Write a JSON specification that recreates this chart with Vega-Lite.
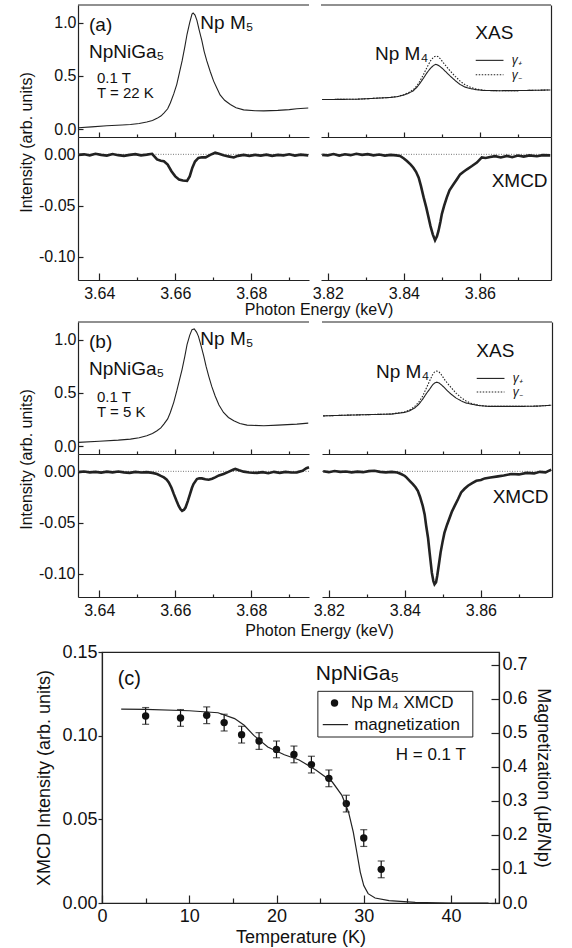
{
"$schema": "https://vega.github.io/schema/vega-lite/v6.json",
"autosize": {"type": "pad"},
"padding": {"left": 18, "top": 4, "right": 2, "bottom": 2},
"background": "white",
"config": {
 "font": "Liberation Sans",
 "view": {"stroke": null},
 "axis": {"labelFont": "Liberation Sans", "titleFont": "Liberation Sans", "labelFontSize": 16, "titleFontSize": 16, "titleFontWeight": "normal", "labelColor": "#111", "titleColor": "#111", "domainColor": "#222", "tickColor": "#222", "grid": false, "labelFlush": false, "labelOverlap": false, "domainWidth": 1.2, "tickWidth": 1.2},
 "text": {"font": "Liberation Sans", "color": "#111"},
 "title": {"font": "Liberation Sans", "fontWeight": "normal", "color": "#111"}
},
"bounds": "full",
"spacing": 3,
"vconcat": [
 {
  "bounds": "full",
  "spacing": -2,
  "title": {"text": "Photon Energy  (keV)", "orient": "bottom", "anchor": "middle", "dx": 32, "offset": 1, "fontSize": 16},
  "hconcat": [
   {"bounds": "flush", "spacing": 0, "vconcat": [
    {"width": 231, "height": 132, "resolve": {"axis": {"x": "independent"}}, "layer": [
     {"data": {"values": [{}]}, "mark": {"type": "rule", "color": "#222", "strokeWidth": 1.2}, "encoding": {"x": {"datum": 3.6344, "type": "quantitative", "axis": {"orient": "bottom", "values": [3.65, 3.67, 3.69], "labels": false, "domain": false, "title": null, "tickSize": -3}}, "x2": {"datum": 3.6952}, "y": {"datum": 1.165, "type": "quantitative"}}},
     {"layer": [
      {"data": {"name": "xasA_L"}, "mark": {"type": "line", "color": "#222", "strokeWidth": 1.1},
       "encoding": {"x": {"field": "E", "type": "quantitative", "scale": {"domain": [3.6344, 3.6952], "nice": false, "zero": false}, "axis": {"orient": "bottom", "values": [3.64, 3.66, 3.68], "labels": false, "title": null, "tickSize": -5}},
        "y": {"field": "I", "type": "quantitative", "scale": {"domain": [-0.075, 1.165], "nice": false, "zero": false}, "axis": {"orient": "left", "values": [0, 0.5, 1], "format": ".1f", "title": null, "tickSize": -5, "labelPadding": 7}}}},
      {"data": {"values": [{}]}, "mark": {"type": "text", "align": "left", "baseline": "middle", "fontSize": 19}, "encoding": {"x": {"datum": 3.6373, "type": "quantitative"}, "y": {"datum": 0.98, "type": "quantitative"}, "text": {"value": "(a)"}}},
      {"data": {"values": [{}]}, "mark": {"type": "text", "align": "left", "baseline": "middle", "fontSize": 19}, "encoding": {"x": {"datum": 3.6373, "type": "quantitative"}, "y": {"datum": 0.72, "type": "quantitative"}, "text": {"value": "NpNiGa₅"}}},
      {"data": {"values": [{}]}, "mark": {"type": "text", "align": "left", "baseline": "middle", "fontSize": 15}, "encoding": {"x": {"datum": 3.6394, "type": "quantitative"}, "y": {"datum": 0.48, "type": "quantitative"}, "text": {"value": "0.1 T"}}},
      {"data": {"values": [{}]}, "mark": {"type": "text", "align": "left", "baseline": "middle", "fontSize": 15}, "encoding": {"x": {"datum": 3.6394, "type": "quantitative"}, "y": {"datum": 0.335, "type": "quantitative"}, "text": {"value": "T = 22 K"}}},
      {"data": {"values": [{}]}, "mark": {"type": "text", "align": "left", "baseline": "middle", "fontSize": 19}, "encoding": {"x": {"datum": 3.6666, "type": "quantitative"}, "y": {"datum": 1.0, "type": "quantitative"}, "text": {"value": "Np M₅"}}}
     ]}
    ]},
    {"width": 231, "height": 143, "resolve": {"axis": {"x": "independent"}}, "layer": [
     {"data": {"values": [{}]}, "mark": {"type": "rule", "color": "#777", "strokeDash": [1, 1.5], "strokeWidth": 1}, "encoding": {"x": {"datum": 3.6344, "type": "quantitative", "axis": {"orient": "bottom", "values": [3.65, 3.67, 3.69], "labels": false, "domain": false, "title": null, "tickSize": -3}}, "x2": {"datum": 3.6952}, "y": {"datum": 0, "type": "quantitative"}}},
     {"layer": [
      {"data": {"name": "xmcdA_L"}, "mark": {"type": "line", "color": "#222", "strokeWidth": 2.6},
       "encoding": {"x": {"field": "E", "type": "quantitative", "scale": {"domain": [3.6344, 3.6952], "nice": false, "zero": false}, "axis": {"orient": "bottom", "values": [3.64, 3.66, 3.68], "format": ".2f", "title": null, "labelPadding": 12, "tickSize": -7}},
        "y": {"field": "I", "type": "quantitative", "scale": {"domain": [-0.1225, 0.0169], "nice": false, "zero": false}, "axis": {"orient": "left", "values": [0, -0.05, -0.1], "labelExpr": "datum.value === 0 ? '0.00' : '-' + format(abs(datum.value),'.2f')", "title": "Intensity  (arb. units)", "titleY": 5, "titlePadding": 4, "tickSize": -5, "labelPadding": 8}}}}
     ]}
    ]}
   ]},
   {"bounds": "flush", "spacing": 0, "vconcat": [
    {"width": 230, "height": 132, "resolve": {"axis": {"x": "independent"}}, "layer": [
     {"data": {"values": [{}]}, "mark": {"type": "rule", "color": "#222", "strokeWidth": 1.2}, "encoding": {"x": {"datum": 3.8182, "type": "quantitative", "axis": {"orient": "bottom", "values": [3.83, 3.85, 3.87], "labels": false, "domain": false, "title": null, "tickSize": -3}}, "x2": {"datum": 3.8787}, "y": {"datum": 1.165, "type": "quantitative"}}},
     {"layer": [
      {"data": {"name": "xasA_R"}, "mark": {"type": "line", "color": "#222", "strokeWidth": 1.1},
       "encoding": {"x": {"field": "E", "type": "quantitative", "scale": {"domain": [3.8182, 3.8787], "nice": false, "zero": false}, "axis": {"orient": "bottom", "values": [3.82, 3.84, 3.86], "labels": false, "title": null, "tickSize": -5}},
        "y": {"field": "I", "type": "quantitative", "scale": {"domain": [-0.075, 1.165], "nice": false, "zero": false}, "axis": {"orient": "right", "labels": false, "ticks": false, "title": null}},
        "strokeDash": {"field": "pol", "type": "nominal", "scale": {"domain": ["plus", "minus"], "range": [[1, 0], [1.5, 1.5]]}, "legend": null}}},
      {"data": {"values": [{}]}, "mark": {"type": "text", "align": "left", "baseline": "middle", "fontSize": 19}, "encoding": {"x": {"datum": 3.8324, "type": "quantitative"}, "y": {"datum": 0.705, "type": "quantitative"}, "text": {"value": "Np M₄"}}},
      {"data": {"values": [{}]}, "mark": {"type": "text", "align": "left", "baseline": "middle", "fontSize": 19}, "encoding": {"x": {"datum": 3.8588, "type": "quantitative"}, "y": {"datum": 0.898, "type": "quantitative"}, "text": {"value": "XAS"}}},
      {"data": {"values": [{}]}, "mark": {"type": "rule", "color": "#222", "strokeWidth": 1.1}, "encoding": {"x": {"datum": 3.8589, "type": "quantitative"}, "x2": {"datum": 3.8662}, "y": {"datum": 0.645, "type": "quantitative"}}},
      {"data": {"values": [{}]}, "mark": {"type": "rule", "color": "#222", "strokeWidth": 1.1, "strokeDash": [1.5, 1.5]}, "encoding": {"x": {"datum": 3.8589, "type": "quantitative"}, "x2": {"datum": 3.8662}, "y": {"datum": 0.51, "type": "quantitative"}}},
      {"data": {"values": [{}]}, "mark": {"type": "text", "align": "left", "baseline": "middle", "fontSize": 12, "fontStyle": "italic"}, "encoding": {"x": {"datum": 3.8684, "type": "quantitative"}, "y": {"datum": 0.645, "type": "quantitative"}, "text": {"value": "γ₊"}}},
      {"data": {"values": [{}]}, "mark": {"type": "text", "align": "left", "baseline": "middle", "fontSize": 12, "fontStyle": "italic"}, "encoding": {"x": {"datum": 3.8684, "type": "quantitative"}, "y": {"datum": 0.51, "type": "quantitative"}, "text": {"value": "γ₋"}}}
     ]}
    ]},
    {"width": 230, "height": 143, "resolve": {"axis": {"x": "independent"}}, "layer": [
     {"data": {"values": [{}]}, "mark": {"type": "rule", "color": "#777", "strokeDash": [1, 1.5], "strokeWidth": 1}, "encoding": {"x": {"datum": 3.8182, "type": "quantitative", "axis": {"orient": "bottom", "values": [3.83, 3.85, 3.87], "labels": false, "domain": false, "title": null, "tickSize": -3}}, "x2": {"datum": 3.8787}, "y": {"datum": 0, "type": "quantitative"}}},
     {"layer": [
      {"data": {"name": "xmcdA_R"}, "mark": {"type": "line", "color": "#222", "strokeWidth": 2.6},
       "encoding": {"x": {"field": "E", "type": "quantitative", "scale": {"domain": [3.8182, 3.8787], "nice": false, "zero": false}, "axis": {"orient": "bottom", "values": [3.82, 3.84, 3.86], "format": ".2f", "title": null, "labelPadding": 12, "tickSize": -7}},
        "y": {"field": "I", "type": "quantitative", "scale": {"domain": [-0.1225, 0.0169], "nice": false, "zero": false}, "axis": {"orient": "right", "labels": false, "ticks": false, "title": null}}}},
      {"data": {"values": [{}]}, "mark": {"type": "text", "align": "right", "baseline": "middle", "fontSize": 19}, "encoding": {"x": {"datum": 3.8778, "type": "quantitative"}, "y": {"datum": -0.026, "type": "quantitative"}, "text": {"value": "XMCD"}}}
     ]}
    ]}
   ]}
  ]
 },
 {
  "bounds": "full",
  "spacing": -2,
  "title": {"text": "Photon Energy  (keV)", "orient": "bottom", "anchor": "middle", "dx": 32, "offset": 5, "fontSize": 16},
  "hconcat": [
   {"bounds": "flush", "spacing": 0, "vconcat": [
    {"width": 231, "height": 132, "resolve": {"axis": {"x": "independent"}}, "layer": [
     {"data": {"values": [{}]}, "mark": {"type": "rule", "color": "#222", "strokeWidth": 1.2}, "encoding": {"x": {"datum": 3.6344, "type": "quantitative", "axis": {"orient": "bottom", "values": [3.65, 3.67, 3.69], "labels": false, "domain": false, "title": null, "tickSize": -3}}, "x2": {"datum": 3.6952}, "y": {"datum": 1.165, "type": "quantitative"}}},
     {"layer": [
      {"data": {"name": "xasB_L"}, "mark": {"type": "line", "color": "#222", "strokeWidth": 1.1},
       "encoding": {"x": {"field": "E", "type": "quantitative", "scale": {"domain": [3.6344, 3.6952], "nice": false, "zero": false}, "axis": {"orient": "bottom", "values": [3.64, 3.66, 3.68], "labels": false, "title": null, "tickSize": -5}},
        "y": {"field": "I", "type": "quantitative", "scale": {"domain": [-0.075, 1.165], "nice": false, "zero": false}, "axis": {"orient": "left", "values": [0, 0.5, 1], "format": ".1f", "title": null, "tickSize": -5, "labelPadding": 7}}}},
      {"data": {"values": [{}]}, "mark": {"type": "text", "align": "left", "baseline": "middle", "fontSize": 19}, "encoding": {"x": {"datum": 3.6373, "type": "quantitative"}, "y": {"datum": 0.98, "type": "quantitative"}, "text": {"value": "(b)"}}},
      {"data": {"values": [{}]}, "mark": {"type": "text", "align": "left", "baseline": "middle", "fontSize": 19}, "encoding": {"x": {"datum": 3.6373, "type": "quantitative"}, "y": {"datum": 0.72, "type": "quantitative"}, "text": {"value": "NpNiGa₅"}}},
      {"data": {"values": [{}]}, "mark": {"type": "text", "align": "left", "baseline": "middle", "fontSize": 15}, "encoding": {"x": {"datum": 3.6394, "type": "quantitative"}, "y": {"datum": 0.465, "type": "quantitative"}, "text": {"value": "0.1 T"}}},
      {"data": {"values": [{}]}, "mark": {"type": "text", "align": "left", "baseline": "middle", "fontSize": 15}, "encoding": {"x": {"datum": 3.6394, "type": "quantitative"}, "y": {"datum": 0.32, "type": "quantitative"}, "text": {"value": "T = 5 K"}}},
      {"data": {"values": [{}]}, "mark": {"type": "text", "align": "left", "baseline": "middle", "fontSize": 19}, "encoding": {"x": {"datum": 3.6666, "type": "quantitative"}, "y": {"datum": 1.01, "type": "quantitative"}, "text": {"value": "Np M₅"}}}
     ]}
    ]},
    {"width": 231, "height": 143, "resolve": {"axis": {"x": "independent"}}, "layer": [
     {"data": {"values": [{}]}, "mark": {"type": "rule", "color": "#777", "strokeDash": [1, 1.5], "strokeWidth": 1}, "encoding": {"x": {"datum": 3.6344, "type": "quantitative", "axis": {"orient": "bottom", "values": [3.65, 3.67, 3.69], "labels": false, "domain": false, "title": null, "tickSize": -3}}, "x2": {"datum": 3.6952}, "y": {"datum": 0, "type": "quantitative"}}},
     {"layer": [
      {"data": {"name": "xmcdB_L"}, "mark": {"type": "line", "color": "#222", "strokeWidth": 2.6},
       "encoding": {"x": {"field": "E", "type": "quantitative", "scale": {"domain": [3.6344, 3.6952], "nice": false, "zero": false}, "axis": {"orient": "bottom", "values": [3.64, 3.66, 3.68], "format": ".2f", "title": null, "labelPadding": 12, "tickSize": -7}},
        "y": {"field": "I", "type": "quantitative", "scale": {"domain": [-0.1225, 0.0169], "nice": false, "zero": false}, "axis": {"orient": "left", "values": [0, -0.05, -0.1], "labelExpr": "datum.value === 0 ? '0.00' : '-' + format(abs(datum.value),'.2f')", "title": "Intensity  (arb. units)", "titleY": 5, "titlePadding": 4, "tickSize": -5, "labelPadding": 8}}}}
     ]}
    ]}
   ]},
   {"bounds": "flush", "spacing": 0, "vconcat": [
    {"width": 230, "height": 132, "resolve": {"axis": {"x": "independent"}}, "layer": [
     {"data": {"values": [{}]}, "mark": {"type": "rule", "color": "#222", "strokeWidth": 1.2}, "encoding": {"x": {"datum": 3.8182, "type": "quantitative", "axis": {"orient": "bottom", "values": [3.83, 3.85, 3.87], "labels": false, "domain": false, "title": null, "tickSize": -3}}, "x2": {"datum": 3.8787}, "y": {"datum": 1.165, "type": "quantitative"}}},
     {"layer": [
      {"data": {"name": "xasB_R"}, "mark": {"type": "line", "color": "#222", "strokeWidth": 1.1},
       "encoding": {"x": {"field": "E", "type": "quantitative", "scale": {"domain": [3.8182, 3.8787], "nice": false, "zero": false}, "axis": {"orient": "bottom", "values": [3.82, 3.84, 3.86], "labels": false, "title": null, "tickSize": -5}},
        "y": {"field": "I", "type": "quantitative", "scale": {"domain": [-0.075, 1.165], "nice": false, "zero": false}, "axis": {"orient": "right", "labels": false, "ticks": false, "title": null}},
        "strokeDash": {"field": "pol", "type": "nominal", "scale": {"domain": ["plus", "minus"], "range": [[1, 0], [1.5, 1.5]]}, "legend": null}}},
      {"data": {"values": [{}]}, "mark": {"type": "text", "align": "left", "baseline": "middle", "fontSize": 19}, "encoding": {"x": {"datum": 3.8324, "type": "quantitative"}, "y": {"datum": 0.696, "type": "quantitative"}, "text": {"value": "Np M₄"}}},
      {"data": {"values": [{}]}, "mark": {"type": "text", "align": "left", "baseline": "middle", "fontSize": 19}, "encoding": {"x": {"datum": 3.8588, "type": "quantitative"}, "y": {"datum": 0.89, "type": "quantitative"}, "text": {"value": "XAS"}}},
      {"data": {"values": [{}]}, "mark": {"type": "rule", "color": "#222", "strokeWidth": 1.1}, "encoding": {"x": {"datum": 3.8589, "type": "quantitative"}, "x2": {"datum": 3.8662}, "y": {"datum": 0.635, "type": "quantitative"}}},
      {"data": {"values": [{}]}, "mark": {"type": "rule", "color": "#222", "strokeWidth": 1.1, "strokeDash": [1.5, 1.5]}, "encoding": {"x": {"datum": 3.8589, "type": "quantitative"}, "x2": {"datum": 3.8662}, "y": {"datum": 0.508, "type": "quantitative"}}},
      {"data": {"values": [{}]}, "mark": {"type": "text", "align": "left", "baseline": "middle", "fontSize": 12, "fontStyle": "italic"}, "encoding": {"x": {"datum": 3.8684, "type": "quantitative"}, "y": {"datum": 0.635, "type": "quantitative"}, "text": {"value": "γ₊"}}},
      {"data": {"values": [{}]}, "mark": {"type": "text", "align": "left", "baseline": "middle", "fontSize": 12, "fontStyle": "italic"}, "encoding": {"x": {"datum": 3.8684, "type": "quantitative"}, "y": {"datum": 0.508, "type": "quantitative"}, "text": {"value": "γ₋"}}}
     ]}
    ]},
    {"width": 230, "height": 143, "resolve": {"axis": {"x": "independent"}}, "layer": [
     {"data": {"values": [{}]}, "mark": {"type": "rule", "color": "#777", "strokeDash": [1, 1.5], "strokeWidth": 1}, "encoding": {"x": {"datum": 3.8182, "type": "quantitative", "axis": {"orient": "bottom", "values": [3.83, 3.85, 3.87], "labels": false, "domain": false, "title": null, "tickSize": -3}}, "x2": {"datum": 3.8787}, "y": {"datum": 0, "type": "quantitative"}}},
     {"layer": [
      {"data": {"name": "xmcdB_R"}, "mark": {"type": "line", "color": "#222", "strokeWidth": 2.6},
       "encoding": {"x": {"field": "E", "type": "quantitative", "scale": {"domain": [3.8182, 3.8787], "nice": false, "zero": false}, "axis": {"orient": "bottom", "values": [3.82, 3.84, 3.86], "format": ".2f", "title": null, "labelPadding": 12, "tickSize": -7}},
        "y": {"field": "I", "type": "quantitative", "scale": {"domain": [-0.1225, 0.0169], "nice": false, "zero": false}, "axis": {"orient": "right", "labels": false, "ticks": false, "title": null}}}},
      {"data": {"values": [{}]}, "mark": {"type": "text", "align": "right", "baseline": "middle", "fontSize": 19}, "encoding": {"x": {"datum": 3.8778, "type": "quantitative"}, "y": {"datum": -0.025, "type": "quantitative"}, "text": {"value": "XMCD"}}}
     ]}
    ]}
   ]}
  ]
 },
 {
  "bounds": "flush",
  "spacing": 0,
  "hconcat": [
   {"width": 24, "height": 251, "data": {"values": []}, "mark": "point"},
   {
    "width": 397, "height": 251,
    "view": {"stroke": "#222", "strokeWidth": 1.2},
    "resolve": {"scale": {"y": "independent"}, "axis": {"y": "independent", "x": "independent"}},
    "layer": [
     {"layer": [
      {"data": {"name": "xmcdT"}, "mark": {"type": "errorbar", "ticks": true, "color": "#111", "size": 7, "thickness": 1.2},
       "encoding": {"x": {"field": "T", "type": "quantitative", "scale": {"domain": [0, 45.5], "nice": false, "zero": false}, "axis": {"orient": "bottom", "values": [0, 10, 20, 30, 40], "tickSize": -8, "labelPadding": 12, "title": "Temperature (K)", "titlePadding": 3, "labelFontSize": 18, "titleFontSize": 18}},
        "y": {"field": "XMCD", "type": "quantitative", "scale": {"domain": [0, 0.15], "nice": false, "zero": false}, "axis": {"orient": "left", "values": [0, 0.05, 0.1, 0.15], "format": ".2f", "tickSize": 4, "labelPadding": 1, "title": "XMCD Intensity (arb. units)", "titlePadding": 8, "labelFontSize": 18, "titleFontSize": 18}},
        "yError": {"field": "err"}}},
      {"data": {"name": "xmcdT"}, "mark": {"type": "circle", "size": 55, "color": "#111", "opacity": 1},
       "encoding": {"x": {"field": "T", "type": "quantitative"}, "y": {"field": "XMCD", "type": "quantitative"}}},
      {"data": {"values": [{}]}, "mark": {"type": "text", "align": "left", "baseline": "middle", "fontSize": 20}, "encoding": {"x": {"datum": 1.8, "type": "quantitative"}, "y": {"datum": 0.134, "type": "quantitative"}, "text": {"value": "(c)"}}},
      {"data": {"values": [{}]}, "mark": {"type": "text", "align": "left", "baseline": "middle", "fontSize": 21}, "encoding": {"x": {"datum": 24.5, "type": "quantitative"}, "y": {"datum": 0.137, "type": "quantitative"}, "text": {"value": "NpNiGa₅"}}},
      {"data": {"values": [{}]}, "mark": {"type": "text", "align": "right", "baseline": "middle", "fontSize": 17}, "encoding": {"x": {"datum": 41.7, "type": "quantitative"}, "y": {"datum": 0.0884, "type": "quantitative"}, "text": {"value": "H = 0.1 T"}}},
      {"data": {"values": [{}]}, "mark": {"type": "rect", "fill": null, "stroke": "#222", "strokeWidth": 1}, "encoding": {"x": {"datum": 24.74, "type": "quantitative"}, "x2": {"datum": 42.5}, "y": {"datum": 0.0992, "type": "quantitative"}, "y2": {"datum": 0.1265}}},
      {"data": {"values": [{}]}, "mark": {"type": "circle", "size": 55, "color": "#111", "opacity": 1}, "encoding": {"x": {"datum": 26.65, "type": "quantitative"}, "y": {"datum": 0.1195, "type": "quantitative"}}},
      {"data": {"values": [{}]}, "mark": {"type": "text", "align": "left", "baseline": "middle", "fontSize": 17}, "encoding": {"x": {"datum": 28.55, "type": "quantitative"}, "y": {"datum": 0.1195, "type": "quantitative"}, "text": {"value": "Np M₄ XMCD"}}},
      {"data": {"values": [{}]}, "mark": {"type": "rule", "color": "#222", "strokeWidth": 1.2}, "encoding": {"x": {"datum": 25.3, "type": "quantitative"}, "x2": {"datum": 28.2}, "y": {"datum": 0.1066, "type": "quantitative"}}},
      {"data": {"values": [{}]}, "mark": {"type": "text", "align": "left", "baseline": "middle", "fontSize": 17}, "encoding": {"x": {"datum": 28.9, "type": "quantitative"}, "y": {"datum": 0.1066, "type": "quantitative"}, "text": {"value": "magnetization"}}}
     ]},
     {"data": {"name": "mag"}, "mark": {"type": "line", "color": "#222", "strokeWidth": 1.2},
      "encoding": {"x": {"field": "T", "type": "quantitative", "axis": {"orient": "bottom", "values": [5, 15, 25, 35, 45], "labels": false, "domain": false, "title": null, "tickSize": -5}},
       "y": {"field": "M", "type": "quantitative", "scale": {"domain": [0, 0.737], "nice": false, "zero": false}, "axis": {"orient": "right", "values": [0, 0.1, 0.2, 0.3, 0.4, 0.5, 0.6, 0.7], "format": ".1f", "tickSize": -8, "labelPadding": 11, "title": "Magnetization (μB/Np)", "titlePadding": 6, "labelFontSize": 18, "titleFontSize": 18}}}}
    ]
   }
  ]
 }
],
"datasets": {
 "xasA_L": [
  {"E": 3.6345, "I": 0.012}, {"E": 3.638, "I": 0.02}, {"E": 3.642, "I": 0.03}, {"E": 3.646, "I": 0.038}, {"E": 3.6482, "I": 0.042}, {"E": 3.6505, "I": 0.052}, {"E": 3.6525, "I": 0.066}, {"E": 3.654, "I": 0.08}, {"E": 3.6552, "I": 0.1}, {"E": 3.6562, "I": 0.122}, {"E": 3.657, "I": 0.15}, {"E": 3.658, "I": 0.19}, {"E": 3.6587, "I": 0.245}, {"E": 3.6596, "I": 0.33}, {"E": 3.6604, "I": 0.42}, {"E": 3.6611, "I": 0.53}, {"E": 3.6618, "I": 0.64}, {"E": 3.6625, "I": 0.77}, {"E": 3.6631, "I": 0.89}, {"E": 3.6638, "I": 1.0}, {"E": 3.6644, "I": 1.08}, {"E": 3.6647, "I": 1.09}, {"E": 3.6652, "I": 1.07}, {"E": 3.6657, "I": 1.02}, {"E": 3.6663, "I": 0.93}, {"E": 3.667, "I": 0.83}, {"E": 3.6676, "I": 0.73}, {"E": 3.6683, "I": 0.64}, {"E": 3.6692, "I": 0.54}, {"E": 3.6701, "I": 0.45}, {"E": 3.671, "I": 0.38}, {"E": 3.6718, "I": 0.32}, {"E": 3.673, "I": 0.27}, {"E": 3.6745, "I": 0.23}, {"E": 3.676, "I": 0.2}, {"E": 3.678, "I": 0.18}, {"E": 3.681, "I": 0.172}, {"E": 3.6833, "I": 0.17}, {"E": 3.687, "I": 0.175}, {"E": 3.69, "I": 0.182}, {"E": 3.692, "I": 0.19}, {"E": 3.695, "I": 0.198}
 ],
 "xasA_R": [
  {"E": 3.8185, "I": 0.277, "pol": "plus"}, {"E": 3.822, "I": 0.278, "pol": "plus"}, {"E": 3.8276, "I": 0.28, "pol": "plus"}, {"E": 3.832, "I": 0.288, "pol": "plus"}, {"E": 3.8364, "I": 0.296, "pol": "plus"}, {"E": 3.8385, "I": 0.305, "pol": "plus"}, {"E": 3.8399, "I": 0.318, "pol": "plus"}, {"E": 3.8412, "I": 0.335, "pol": "plus"}, {"E": 3.8425, "I": 0.36, "pol": "plus"}, {"E": 3.8435, "I": 0.395, "pol": "plus"}, {"E": 3.8443, "I": 0.433, "pol": "plus"}, {"E": 3.8452, "I": 0.48, "pol": "plus"}, {"E": 3.8461, "I": 0.53, "pol": "plus"}, {"E": 3.847, "I": 0.57, "pol": "plus"}, {"E": 3.8478, "I": 0.598, "pol": "plus"}, {"E": 3.8484, "I": 0.607, "pol": "plus"}, {"E": 3.849, "I": 0.6, "pol": "plus"}, {"E": 3.8497, "I": 0.582, "pol": "plus"}, {"E": 3.8504, "I": 0.56, "pol": "plus"}, {"E": 3.8513, "I": 0.528, "pol": "plus"}, {"E": 3.8522, "I": 0.497, "pol": "plus"}, {"E": 3.8535, "I": 0.455, "pol": "plus"}, {"E": 3.8548, "I": 0.418, "pol": "plus"}, {"E": 3.856, "I": 0.395, "pol": "plus"}, {"E": 3.8575, "I": 0.38, "pol": "plus"}, {"E": 3.859, "I": 0.37, "pol": "plus"}, {"E": 3.861, "I": 0.362, "pol": "plus"}, {"E": 3.865, "I": 0.36, "pol": "plus"}, {"E": 3.87, "I": 0.361, "pol": "plus"}, {"E": 3.875, "I": 0.364, "pol": "plus"}, {"E": 3.8785, "I": 0.367, "pol": "plus"},
  {"E": 3.8185, "I": 0.277, "pol": "minus"}, {"E": 3.822, "I": 0.278, "pol": "minus"}, {"E": 3.8276, "I": 0.28, "pol": "minus"}, {"E": 3.832, "I": 0.288, "pol": "minus"}, {"E": 3.8364, "I": 0.297, "pol": "minus"}, {"E": 3.8385, "I": 0.307, "pol": "minus"}, {"E": 3.8399, "I": 0.322, "pol": "minus"}, {"E": 3.8412, "I": 0.342, "pol": "minus"}, {"E": 3.8425, "I": 0.37, "pol": "minus"}, {"E": 3.8435, "I": 0.41, "pol": "minus"}, {"E": 3.8443, "I": 0.455, "pol": "minus"}, {"E": 3.8452, "I": 0.515, "pol": "minus"}, {"E": 3.8461, "I": 0.58, "pol": "minus"}, {"E": 3.847, "I": 0.64, "pol": "minus"}, {"E": 3.8478, "I": 0.675, "pol": "minus"}, {"E": 3.8484, "I": 0.686, "pol": "minus"}, {"E": 3.849, "I": 0.68, "pol": "minus"}, {"E": 3.8497, "I": 0.655, "pol": "minus"}, {"E": 3.8504, "I": 0.622, "pol": "minus"}, {"E": 3.8513, "I": 0.582, "pol": "minus"}, {"E": 3.8522, "I": 0.544, "pol": "minus"}, {"E": 3.8535, "I": 0.495, "pol": "minus"}, {"E": 3.8548, "I": 0.45, "pol": "minus"}, {"E": 3.856, "I": 0.418, "pol": "minus"}, {"E": 3.8575, "I": 0.392, "pol": "minus"}, {"E": 3.859, "I": 0.375, "pol": "minus"}, {"E": 3.861, "I": 0.363, "pol": "minus"}, {"E": 3.865, "I": 0.36, "pol": "minus"}, {"E": 3.87, "I": 0.361, "pol": "minus"}, {"E": 3.875, "I": 0.364, "pol": "minus"}, {"E": 3.8785, "I": 0.367, "pol": "minus"}
 ],
 "xmcdA_L": [
  {"E": 3.6345, "I": -0.0005}, {"E": 3.636, "I": 0.0}, {"E": 3.6375, "I": -0.001}, {"E": 3.639, "I": 0.0005}, {"E": 3.6405, "I": -0.0005}, {"E": 3.642, "I": -0.0012}, {"E": 3.6435, "I": 0.0003}, {"E": 3.645, "I": -0.0008}, {"E": 3.6465, "I": -0.0015}, {"E": 3.648, "I": -0.0005}, {"E": 3.6495, "I": 0.0002}, {"E": 3.651, "I": -0.001}, {"E": 3.6525, "I": -0.0003}, {"E": 3.6539, "I": 0.0005}, {"E": 3.6552, "I": -0.005}, {"E": 3.6562, "I": -0.0062}, {"E": 3.657, "I": -0.0068}, {"E": 3.658, "I": -0.01}, {"E": 3.659, "I": -0.0165}, {"E": 3.66, "I": -0.0215}, {"E": 3.661, "I": -0.0245}, {"E": 3.662, "I": -0.0255}, {"E": 3.6631, "I": -0.0258}, {"E": 3.6638, "I": -0.0215}, {"E": 3.6645, "I": -0.013}, {"E": 3.6652, "I": -0.007}, {"E": 3.6661, "I": -0.0035}, {"E": 3.667, "I": -0.0028}, {"E": 3.668, "I": -0.003}, {"E": 3.6692, "I": -0.0005}, {"E": 3.6705, "I": 0.0016}, {"E": 3.6715, "I": 0.0005}, {"E": 3.6727, "I": -0.0008}, {"E": 3.674, "I": -0.002}, {"E": 3.6754, "I": -0.003}, {"E": 3.6765, "I": -0.0015}, {"E": 3.678, "I": -0.0005}, {"E": 3.6795, "I": -0.0015}, {"E": 3.681, "I": -0.0005}, {"E": 3.6825, "I": -0.0012}, {"E": 3.684, "I": -0.0003}, {"E": 3.6855, "I": -0.0015}, {"E": 3.687, "I": -0.0005}, {"E": 3.6885, "I": -0.001}, {"E": 3.69, "I": 0.0}, {"E": 3.6915, "I": -0.0012}, {"E": 3.693, "I": -0.0003}, {"E": 3.695, "I": -0.001}
 ],
 "xmcdA_R": [
  {"E": 3.8185, "I": -0.0005}, {"E": 3.82, "I": -0.001}, {"E": 3.8215, "I": 0.0003}, {"E": 3.823, "I": -0.0012}, {"E": 3.8245, "I": 0.0}, {"E": 3.826, "I": -0.0008}, {"E": 3.8275, "I": 0.0005}, {"E": 3.829, "I": -0.0005}, {"E": 3.8305, "I": 0.0002}, {"E": 3.832, "I": -0.001}, {"E": 3.8335, "I": -0.0002}, {"E": 3.835, "I": -0.0012}, {"E": 3.8365, "I": -0.0005}, {"E": 3.838, "I": -0.001}, {"E": 3.839, "I": -0.0016}, {"E": 3.84, "I": -0.004}, {"E": 3.8408, "I": -0.0065}, {"E": 3.8418, "I": -0.01}, {"E": 3.8425, "I": -0.013}, {"E": 3.8432, "I": -0.017}, {"E": 3.8439, "I": -0.0227}, {"E": 3.8445, "I": -0.031}, {"E": 3.8452, "I": -0.042}, {"E": 3.8459, "I": -0.052}, {"E": 3.8465, "I": -0.0617}, {"E": 3.847, "I": -0.07}, {"E": 3.8476, "I": -0.078}, {"E": 3.8482, "I": -0.0838}, {"E": 3.8487, "I": -0.08}, {"E": 3.8491, "I": -0.0747}, {"E": 3.8496, "I": -0.066}, {"E": 3.85, "I": -0.058}, {"E": 3.8506, "I": -0.05}, {"E": 3.8513, "I": -0.042}, {"E": 3.852, "I": -0.035}, {"E": 3.8531, "I": -0.029}, {"E": 3.854, "I": -0.024}, {"E": 3.8548, "I": -0.0195}, {"E": 3.8557, "I": -0.017}, {"E": 3.8566, "I": -0.0146}, {"E": 3.8579, "I": -0.0114}, {"E": 3.8592, "I": -0.008}, {"E": 3.8605, "I": -0.003}, {"E": 3.8615, "I": -0.0035}, {"E": 3.8627, "I": -0.0026}, {"E": 3.864, "I": -0.0018}, {"E": 3.8655, "I": -0.003}, {"E": 3.8671, "I": -0.0015}, {"E": 3.8685, "I": -0.0028}, {"E": 3.87, "I": -0.0012}, {"E": 3.8715, "I": -0.0022}, {"E": 3.873, "I": -0.001}, {"E": 3.875, "I": -0.0018}, {"E": 3.8765, "I": -0.0008}, {"E": 3.8785, "I": -0.001}
 ],
 "xasB_L": [
  {"E": 3.6345, "I": 0.034}, {"E": 3.64, "I": 0.045}, {"E": 3.645, "I": 0.055}, {"E": 3.6482, "I": 0.065}, {"E": 3.6505, "I": 0.078}, {"E": 3.6525, "I": 0.097}, {"E": 3.654, "I": 0.118}, {"E": 3.6552, "I": 0.143}, {"E": 3.6562, "I": 0.17}, {"E": 3.657, "I": 0.206}, {"E": 3.658, "I": 0.255}, {"E": 3.6587, "I": 0.315}, {"E": 3.6596, "I": 0.41}, {"E": 3.6604, "I": 0.517}, {"E": 3.6611, "I": 0.62}, {"E": 3.6618, "I": 0.72}, {"E": 3.6625, "I": 0.84}, {"E": 3.6631, "I": 0.953}, {"E": 3.6638, "I": 1.04}, {"E": 3.6644, "I": 1.093}, {"E": 3.665, "I": 1.1}, {"E": 3.6656, "I": 1.07}, {"E": 3.6661, "I": 1.03}, {"E": 3.6668, "I": 0.94}, {"E": 3.6675, "I": 0.844}, {"E": 3.6681, "I": 0.75}, {"E": 3.6688, "I": 0.657}, {"E": 3.6696, "I": 0.56}, {"E": 3.6705, "I": 0.47}, {"E": 3.6715, "I": 0.385}, {"E": 3.6727, "I": 0.315}, {"E": 3.674, "I": 0.268}, {"E": 3.6754, "I": 0.237}, {"E": 3.677, "I": 0.212}, {"E": 3.6789, "I": 0.196}, {"E": 3.6833, "I": 0.19}, {"E": 3.687, "I": 0.196}, {"E": 3.692, "I": 0.206}, {"E": 3.695, "I": 0.215}
 ],
 "xasB_R": [
  {"E": 3.8185, "I": 0.283, "pol": "plus"}, {"E": 3.825, "I": 0.29, "pol": "plus"}, {"E": 3.8364, "I": 0.3, "pol": "plus"}, {"E": 3.8399, "I": 0.315, "pol": "plus"}, {"E": 3.8412, "I": 0.33, "pol": "plus"}, {"E": 3.8425, "I": 0.355, "pol": "plus"}, {"E": 3.8436, "I": 0.39, "pol": "plus"}, {"E": 3.8447, "I": 0.44, "pol": "plus"}, {"E": 3.8456, "I": 0.49, "pol": "plus"}, {"E": 3.8465, "I": 0.533, "pol": "plus"}, {"E": 3.8472, "I": 0.57, "pol": "plus"}, {"E": 3.8478, "I": 0.592, "pol": "plus"}, {"E": 3.8484, "I": 0.6, "pol": "plus"}, {"E": 3.849, "I": 0.592, "pol": "plus"}, {"E": 3.8497, "I": 0.572, "pol": "plus"}, {"E": 3.8504, "I": 0.548, "pol": "plus"}, {"E": 3.8513, "I": 0.515, "pol": "plus"}, {"E": 3.8522, "I": 0.486, "pol": "plus"}, {"E": 3.8535, "I": 0.45, "pol": "plus"}, {"E": 3.8548, "I": 0.424, "pol": "plus"}, {"E": 3.856, "I": 0.405, "pol": "plus"}, {"E": 3.8575, "I": 0.393, "pol": "plus"}, {"E": 3.8595, "I": 0.38, "pol": "plus"}, {"E": 3.862, "I": 0.372, "pol": "plus"}, {"E": 3.87, "I": 0.372, "pol": "plus"}, {"E": 3.875, "I": 0.375, "pol": "plus"}, {"E": 3.8785, "I": 0.383, "pol": "plus"},
  {"E": 3.8185, "I": 0.283, "pol": "minus"}, {"E": 3.825, "I": 0.29, "pol": "minus"}, {"E": 3.8364, "I": 0.301, "pol": "minus"}, {"E": 3.8399, "I": 0.32, "pol": "minus"}, {"E": 3.8412, "I": 0.338, "pol": "minus"}, {"E": 3.8425, "I": 0.368, "pol": "minus"}, {"E": 3.8436, "I": 0.41, "pol": "minus"}, {"E": 3.8447, "I": 0.47, "pol": "minus"}, {"E": 3.8456, "I": 0.54, "pol": "minus"}, {"E": 3.8465, "I": 0.61, "pol": "minus"}, {"E": 3.8472, "I": 0.665, "pol": "minus"}, {"E": 3.8478, "I": 0.695, "pol": "minus"}, {"E": 3.8484, "I": 0.704, "pol": "minus"}, {"E": 3.849, "I": 0.695, "pol": "minus"}, {"E": 3.8497, "I": 0.665, "pol": "minus"}, {"E": 3.8504, "I": 0.626, "pol": "minus"}, {"E": 3.8513, "I": 0.585, "pol": "minus"}, {"E": 3.8522, "I": 0.548, "pol": "minus"}, {"E": 3.8535, "I": 0.495, "pol": "minus"}, {"E": 3.8548, "I": 0.455, "pol": "minus"}, {"E": 3.856, "I": 0.425, "pol": "minus"}, {"E": 3.8575, "I": 0.4, "pol": "minus"}, {"E": 3.8595, "I": 0.383, "pol": "minus"}, {"E": 3.862, "I": 0.373, "pol": "minus"}, {"E": 3.87, "I": 0.372, "pol": "minus"}, {"E": 3.875, "I": 0.375, "pol": "minus"}, {"E": 3.8785, "I": 0.383, "pol": "minus"}
 ],
 "xmcdB_L": [
  {"E": 3.6345, "I": -0.0008}, {"E": 3.636, "I": -0.0002}, {"E": 3.6375, "I": -0.001}, {"E": 3.639, "I": -0.0005}, {"E": 3.6405, "I": -0.0012}, {"E": 3.642, "I": -0.0003}, {"E": 3.6435, "I": -0.001}, {"E": 3.645, "I": -0.0002}, {"E": 3.6465, "I": -0.001}, {"E": 3.648, "I": -0.0015}, {"E": 3.6495, "I": -0.0005}, {"E": 3.651, "I": -0.0012}, {"E": 3.6525, "I": -0.0008}, {"E": 3.654, "I": -0.0015}, {"E": 3.6552, "I": -0.0026}, {"E": 3.6562, "I": -0.0045}, {"E": 3.657, "I": -0.0059}, {"E": 3.6577, "I": -0.008}, {"E": 3.6583, "I": -0.0108}, {"E": 3.659, "I": -0.016}, {"E": 3.6596, "I": -0.022}, {"E": 3.6603, "I": -0.0285}, {"E": 3.6609, "I": -0.0337}, {"E": 3.6614, "I": -0.037}, {"E": 3.6618, "I": -0.0386}, {"E": 3.6623, "I": -0.0375}, {"E": 3.6627, "I": -0.0353}, {"E": 3.6633, "I": -0.029}, {"E": 3.6639, "I": -0.022}, {"E": 3.6644, "I": -0.016}, {"E": 3.6648, "I": -0.0124}, {"E": 3.6657, "I": -0.0075}, {"E": 3.6663, "I": -0.0068}, {"E": 3.667, "I": -0.0069}, {"E": 3.6679, "I": -0.0078}, {"E": 3.6688, "I": -0.0082}, {"E": 3.6697, "I": -0.0072}, {"E": 3.6705, "I": -0.0059}, {"E": 3.6715, "I": -0.004}, {"E": 3.6727, "I": -0.0026}, {"E": 3.674, "I": -0.0005}, {"E": 3.6752, "I": 0.0015}, {"E": 3.6758, "I": 0.0023}, {"E": 3.6768, "I": 0.001}, {"E": 3.678, "I": -0.0003}, {"E": 3.6795, "I": -0.0012}, {"E": 3.6815, "I": -0.0015}, {"E": 3.683, "I": -0.0008}, {"E": 3.6845, "I": -0.0018}, {"E": 3.686, "I": -0.0005}, {"E": 3.6875, "I": -0.0015}, {"E": 3.689, "I": -0.0005}, {"E": 3.6905, "I": -0.0012}, {"E": 3.692, "I": -0.001}, {"E": 3.6935, "I": 0.0005}, {"E": 3.6945, "I": 0.003}, {"E": 3.6952, "I": 0.004}
 ],
 "xmcdB_R": [
  {"E": 3.8185, "I": 0.0}, {"E": 3.82, "I": -0.0008}, {"E": 3.8215, "I": 0.0003}, {"E": 3.823, "I": -0.0005}, {"E": 3.8245, "I": -0.0002}, {"E": 3.826, "I": -0.001}, {"E": 3.8275, "I": -0.0003}, {"E": 3.829, "I": -0.0008}, {"E": 3.8305, "I": 0.0002}, {"E": 3.832, "I": 0.0005}, {"E": 3.8335, "I": -0.0005}, {"E": 3.835, "I": -0.001}, {"E": 3.8365, "I": -0.0005}, {"E": 3.838, "I": -0.0012}, {"E": 3.839, "I": -0.0026}, {"E": 3.84, "I": -0.0045}, {"E": 3.8404, "I": -0.0059}, {"E": 3.8412, "I": -0.009}, {"E": 3.8421, "I": -0.0124}, {"E": 3.8428, "I": -0.0155}, {"E": 3.8434, "I": -0.019}, {"E": 3.844, "I": -0.025}, {"E": 3.8447, "I": -0.0337}, {"E": 3.8452, "I": -0.042}, {"E": 3.8456, "I": -0.053}, {"E": 3.8461, "I": -0.065}, {"E": 3.8465, "I": -0.079}, {"E": 3.8468, "I": -0.089}, {"E": 3.8471, "I": -0.099}, {"E": 3.8475, "I": -0.107}, {"E": 3.8478, "I": -0.11}, {"E": 3.8482, "I": -0.108}, {"E": 3.8485, "I": -0.102}, {"E": 3.8489, "I": -0.092}, {"E": 3.8494, "I": -0.079}, {"E": 3.8499, "I": -0.069}, {"E": 3.8504, "I": -0.06}, {"E": 3.8511, "I": -0.052}, {"E": 3.8518, "I": -0.045}, {"E": 3.8524, "I": -0.039}, {"E": 3.8531, "I": -0.0337}, {"E": 3.854, "I": -0.027}, {"E": 3.8548, "I": -0.0206}, {"E": 3.8557, "I": -0.017}, {"E": 3.8566, "I": -0.014}, {"E": 3.8577, "I": -0.0115}, {"E": 3.8588, "I": -0.0092}, {"E": 3.86, "I": -0.0085}, {"E": 3.861, "I": -0.0069}, {"E": 3.8625, "I": -0.006}, {"E": 3.8645, "I": -0.0049}, {"E": 3.866, "I": -0.004}, {"E": 3.868, "I": -0.0026}, {"E": 3.87, "I": -0.003}, {"E": 3.872, "I": -0.0015}, {"E": 3.874, "I": -0.002}, {"E": 3.8755, "I": -0.0005}, {"E": 3.877, "I": -0.001}, {"E": 3.8785, "I": 0.0016}
 ],
 "xmcdT": [
  {"T": 5, "XMCD": 0.1118, "err": 0.005}, {"T": 9, "XMCD": 0.1106, "err": 0.005}, {"T": 12, "XMCD": 0.1122, "err": 0.005}, {"T": 14, "XMCD": 0.1078, "err": 0.005}, {"T": 16, "XMCD": 0.1006, "err": 0.005}, {"T": 18, "XMCD": 0.0968, "err": 0.005}, {"T": 20, "XMCD": 0.0918, "err": 0.005}, {"T": 22, "XMCD": 0.0888, "err": 0.005}, {"T": 24, "XMCD": 0.0827, "err": 0.005}, {"T": 26, "XMCD": 0.0745, "err": 0.005}, {"T": 28, "XMCD": 0.0594, "err": 0.005}, {"T": 30, "XMCD": 0.0388, "err": 0.005}, {"T": 32, "XMCD": 0.0201, "err": 0.005}
 ],
 "mag": [
  {"T": 2.2, "M": 0.5694}, {"T": 5, "M": 0.5686}, {"T": 10, "M": 0.5645}, {"T": 13.3, "M": 0.5586}, {"T": 15.2, "M": 0.5414}, {"T": 16.3, "M": 0.5217}, {"T": 17.4, "M": 0.4923}, {"T": 19, "M": 0.4579}, {"T": 20.9, "M": 0.4353}, {"T": 22.6, "M": 0.4201}, {"T": 24.55, "M": 0.3896}, {"T": 26.4, "M": 0.3552}, {"T": 27.5, "M": 0.3159}, {"T": 28.25, "M": 0.2673}, {"T": 28.8, "M": 0.2083}, {"T": 29.2, "M": 0.1498}, {"T": 29.6, "M": 0.0909}, {"T": 30.0, "M": 0.0511}, {"T": 30.5, "M": 0.0275}, {"T": 31.3, "M": 0.0147}, {"T": 32.9, "M": 0.0069}, {"T": 35.9, "M": 0.002}, {"T": 39.7, "M": 0.0}, {"T": 44.3, "M": 0.0}
 ]
}
}
